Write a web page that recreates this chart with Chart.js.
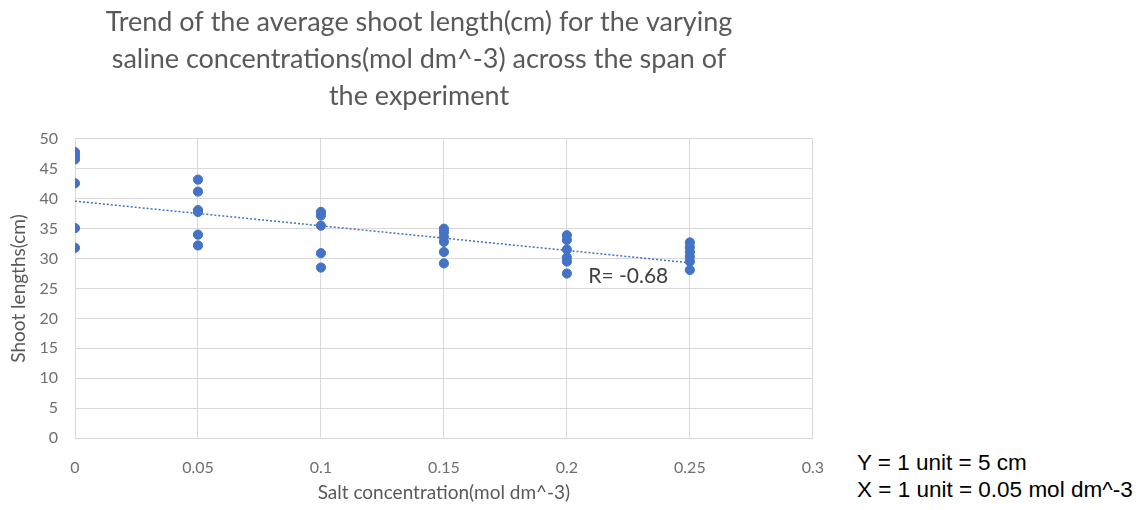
<!DOCTYPE html>
<html>
<head>
<meta charset="utf-8">
<script src="https://cdn.jsdelivr.net/npm/chart.js@4/dist/chart.umd.min.js"></script>
<style>
    body { margin: 0; background: #fff; width: 1141px; height: 510px; overflow: hidden; position: relative; }
    #wrap { position: absolute; left: 0; top: 0; width: 844px; height: 510px; }
    .note { position: absolute; left: 857px; font-family: "Liberation Sans", Arial, sans-serif; font-size: 22.5px; color: #000; white-space: nowrap; }
</style>
</head>
<body>
<div id="wrap"><canvas id="shootChart" width="844" height="510"></canvas></div>
<div class="note" style="top: 450px;">Y = 1 unit = 5 cm</div>
<div class="note" style="top: 477px;">X = 1 unit = 0.05 mol dm^-3</div>
<script>
// salt concentrations (mol dm^-3)
const saltLevels = [0, 0.05, 0.1, 0.15, 0.2, 0.25];

// shoot lengths (cm)
const shoot000 = [47.8, 47.2, 46.6, 42.6, 35.1, 31.8];
const shoot005 = [43.2, 41.2, 38.1, 37.8, 34.0, 32.2];
const shoot010 = [37.8, 37.2, 35.5, 30.9, 28.5];
const shoot015 = [35.0, 34.4, 33.6, 32.8, 31.1, 29.2];
const shoot020 = [33.9, 33.1, 31.5, 30.2, 29.5, 27.5];
const shoot025 = [32.7, 31.9, 31.1, 30.3, 29.5, 28.1];

// linear trend end points
const trendX = [0, 0.25];
const trendY = [39.6, 29.3];

const yTicks = [0, 5, 10, 15, 20, 25, 30, 35, 40, 45, 50];
const xTicks = [0, 0.05, 0.1, 0.15, 0.2, 0.25, 0.3];

const titleLines = [
    "Trend of the average shoot length(cm) for the varying",
    "saline concentrations(mol dm^-3) across the span of",
    "the experiment"
];
const rLabel = "R= -0.68";

const columns = [shoot000, shoot005, shoot010, shoot015, shoot020, shoot025];
const points = [];
columns.forEach((col, i) => {
    col.forEach(v => points.push({ x: saltLevels[i], y: v }));
});

const blue = "#4472C4";
const grey = "#595959";
const tickGrey = "#6f6f6f";
const font = "Lato, 'Open Sans', sans-serif";

// draws the R value next to the trend line
const rLabelPlugin = {
    id: "rLabel",
    afterDatasetsDraw(chart) {
        const { ctx, scales } = chart;
        ctx.save();
        ctx.font = "21px " + font;
        ctx.fillStyle = "#404040";
        ctx.textBaseline = "middle";
        ctx.fillText(rLabel, scales.x.getPixelForValue(0.2087), scales.y.getPixelForValue(27.0));
        ctx.restore();
    }
};

new Chart(document.getElementById("shootChart"), {
    type: "scatter",
    data: {
        datasets: [
            {
                label: "Shoot length",
                data: points,
                backgroundColor: blue,
                borderColor: blue,
                pointRadius: 4.6,
                pointHoverRadius: 4.6
            },
            {
                label: "Trend",
                type: "line",
                data: trendX.map((x, i) => ({ x: x, y: trendY[i] })),
                borderColor: blue,
                borderWidth: 1.5,
                borderDash: [2, 2],
                pointRadius: 0,
                fill: false
            }
        ]
    },
    options: {
        responsive: false,
        animation: false,
        layout: { padding: { top: 0, right: 6, bottom: 0, left: 0 } },
        plugins: {
            legend: { display: false },
            tooltip: { enabled: false },
            title: {
                display: true,
                text: titleLines,
                color: grey,
                font: { family: font, size: 27, weight: "normal", lineHeight: 1.37 },
                padding: { top: 4, bottom: 24 }
            }
        },
        scales: {
            x: {
                type: "linear",
                min: 0,
                max: 0.3,
                afterBuildTicks(scale) {
                    scale.ticks = xTicks.map(v => ({ value: v }));
                },
                afterFit(scale) { scale.height = 72; },
                grid: { color: "#d9d9d9", drawTicks: false },
                border: { color: "#d9d9d9" },
                ticks: {
                    color: tickGrey,
                    padding: 20,
                    font: { family: font, size: 16 },
                    callback: v => String(v)
                },
                title: {
                    display: true,
                    text: "Salt concentration(mol dm^-3)",
                    color: grey,
                    font: { family: font, size: 19 },
                    padding: { top: 0, bottom: 6 }
                }
            },
            y: {
                min: 0,
                max: 50,
                afterBuildTicks(scale) {
                    scale.ticks = yTicks.map(v => ({ value: v }));
                },
                afterFit(scale) { scale.width = 75; },
                grid: { color: "#d9d9d9", drawTicks: false },
                border: { color: "#d9d9d9" },
                ticks: {
                    color: tickGrey,
                    padding: 17,
                    font: { family: font, size: 16 }
                },
                title: {
                    display: true,
                    text: "Shoot lengths(cm)",
                    color: grey,
                    font: { family: font, size: 19 },
                    padding: { top: 7, bottom: 0 }
                }
            }
        }
    },
    plugins: [rLabelPlugin]
});
</script>
</body>
</html>
